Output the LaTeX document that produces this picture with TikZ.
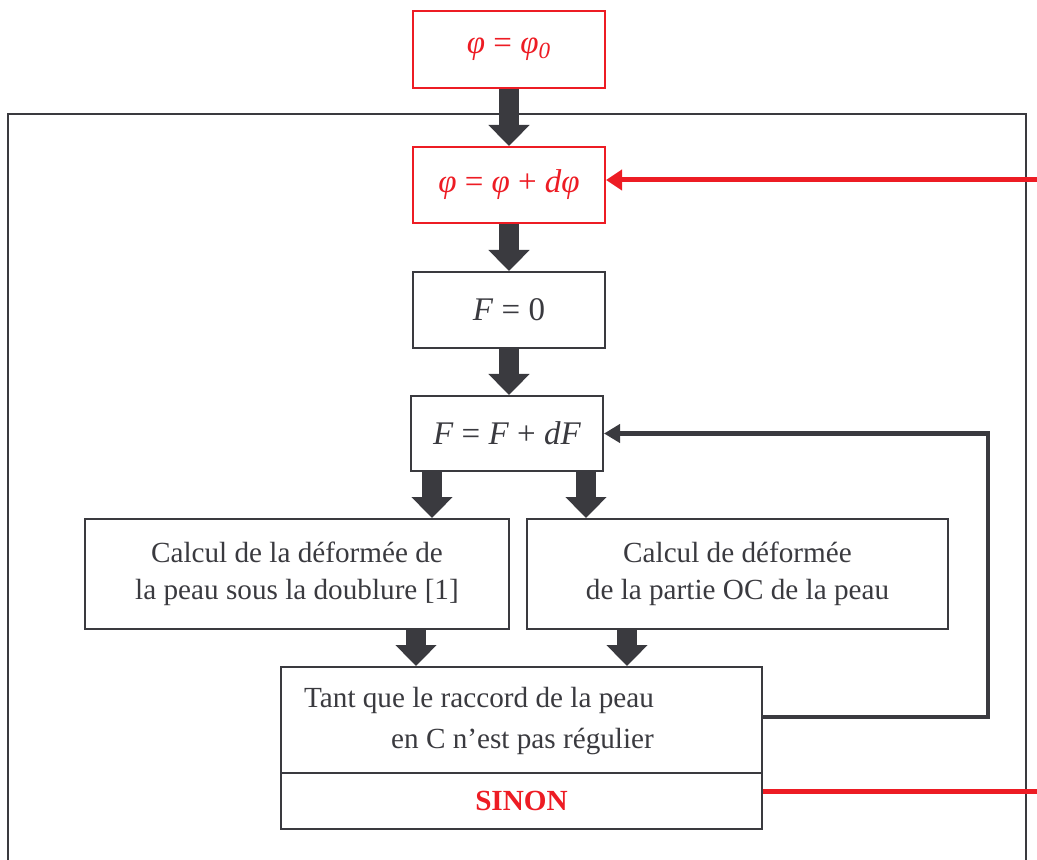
\documentclass[tikz,border=0pt]{standalone}
\usepackage{fontspec}
\setmainfont{Liberation Serif}
\usepackage{xcolor}
\usetikzlibrary{arrows.meta}
\usetikzlibrary{positioning}
\definecolor{rouge}{HTML}{ED1C24}
\definecolor{sombre}{HTML}{3A3A3F}

\begin{document}
\begin{tikzpicture}[x=0.5pt,y=-0.5pt,
		box/.style={draw=sombre,line width=1pt,inner sep=0pt,text=sombre,align=center,font=\fontsize{14.6pt}{18.5pt}\selectfont},
		eqbox/.style={box,font=\fontsize{16.5pt}{19pt}\selectfont},
		redbox/.style={eqbox,draw=rouge,text=rouge},
		blockarrow/.style={draw=sombre,line width=10pt,-{Triangle[length=10.5pt,width=20pt]}},
		loopline/.style={draw=sombre,line width=2pt,-{Triangle[length=8pt,width=9pt]}},
		redline/.style={draw=rouge,line width=2.5pt}]
		\useasboundingbox (0,0) rectangle (1037,860);
		
		% outer frame (cut at the bottom)
		\draw[sombre,line width=1pt] (8,900) -- (8,114) -- (1026,114) -- (1026,900);
		
		% steps
		\node[redbox,minimum width=96pt,minimum height=38.5pt] (phi0) at (509,49.5) {\textit{φ} = \textit{φ\textsubscript{0}}};
		\node[redbox,minimum width=96pt,minimum height=38pt] (phi) at (509,185) {\textit{φ} = \textit{φ} + \textit{dφ}};
		\node[eqbox,minimum width=96pt,minimum height=38pt] (F0) at (509,310) {\textit{F} = 0};
		\node[eqbox,minimum width=96pt,minimum height=37.5pt] (Fd) at (507,433.5) {\textit{F} = \textit{F} + \textit{dF}};
		\node[box,minimum width=212pt,minimum height=55pt] (calcL) at (297,574) {Calcul de la déformée de\\la peau sous la doublure [1]};
		\node[box,minimum width=210.5pt,minimum height=55pt] (calcR) at (737.5,574) {Calcul de déformée\\de la partie OC de la peau};
		\node[box,minimum width=240.5pt,minimum height=53pt] (tq) at (521.5,720) {};
		\node[box,minimum width=240.5pt,minimum height=28pt,below=-1pt of tq,font=\fontsize{14.6pt}{16pt}\selectfont\bfseries,text=rouge] (sinon) {SINON};
		\node[font=\fontsize{14.6pt}{20.5pt}\selectfont,text=sombre,align=right] (tqtext) at (479,721) {Tant que le raccord de la peau\\en C n’est pas régulier};
		
		% block arrows
		\coordinate (aFl) at (432,0);
		\coordinate (aFr) at (586,0);
		\coordinate (aTl) at (416,0);
		\coordinate (aTr) at (627,0);
		\draw[blockarrow] (phi0.south) -- (phi.north);
		\draw[blockarrow] (phi.south) -- (F0.north);
		\draw[blockarrow] (F0.south) -- (F0.south |- Fd.north);
		\draw[blockarrow] (Fd.south -| aFl) -- (calcL.north -| aFl);
		\draw[blockarrow] (Fd.south -| aFr) -- (calcR.north -| aFr);
		\draw[blockarrow] (calcL.south -| aTl) -- (tq.north -| aTl);
		\draw[blockarrow] (calcR.south -| aTr) -- (tq.north -| aTr);
		
		% loops
		\coordinate (loopC) at (988,717);
		\coordinate (inR) at (1045,180);
		\coordinate (outR) at (1045,791);
		\draw[loopline] (tq.east |- loopC) -- (loopC) |- (Fd.east);
		\draw[redline] (sinon.east |- outR) -- (outR);
		\draw[redline,-{Triangle[length=8pt,width=10pt]}] (inR) -- (phi.east |- inR);
	\end{tikzpicture}
\end{document}
